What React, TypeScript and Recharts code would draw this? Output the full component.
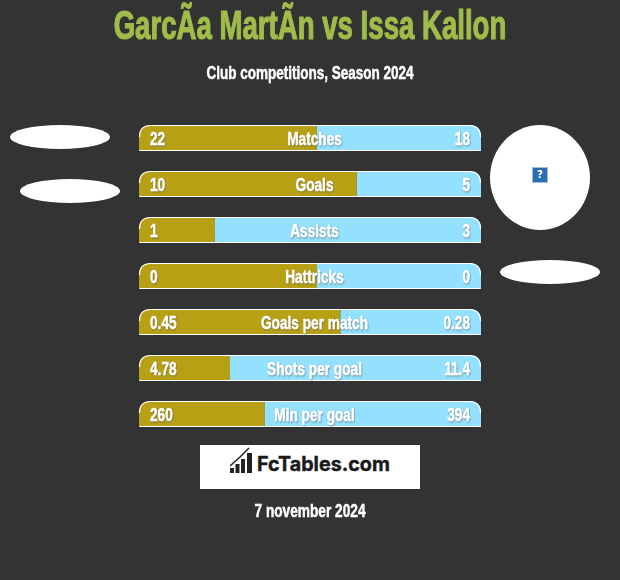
import React from "react";
import { BarChart, Bar, XAxis, YAxis, LabelList } from "recharts";

const categories = ["Matches", "Goals", "Assists", "Hattricks", "Goals per match", "Shots per goal", "Min per goal"];
const leftLabels = ["22", "10", "1", "0", "0.45", "4.78", "260"];
const rightLabels = ["18", "5", "3", "0", "0.28", "11.4", "394"];
// bar shares (percent of the full track)
const leftShare = [52, 63.7, 22.2, 52, 58.9, 26.6, 36.8];
const rightShare = [48, 36.3, 77.8, 48, 41.1, 73.4, 63.2];

const chartData = categories.map((name, i) => ({
  name,
  left: leftShare[i],
  right: rightShare[i],
  leftLabel: leftLabels[i],
  rightLabel: rightLabels[i],
}));

const sans = "'Liberation Sans', sans-serif";
const labelShadow = "drop-shadow(1.5px 1.5px 1px rgba(90,90,90,0.55))";
const PLOT_LEFT = 139;
const PLOT_WIDTH = 342;
const SQUEEZE = 0.72;

const LeftShape = (props: any) => {
  const { x, y, width, height } = props;
  const r = 12;
  const d = `M${x},${y + height} L${x},${y + r} Q${x},${y} ${x + r},${y} L${x + width},${y} L${x + width},${y + height} Z`;
  const edge = `M${x + 0.5},${y + height - 0.5} L${x + width},${y + height - 0.5} M${x + 0.5},${y + r} Q${x + 0.5},${y + 0.5} ${x + r},${y + 0.5} L${x + width},${y + 0.5}`;
  return (
    <g>
      <path d={d} fill="#b8a014" />
      <path d={edge} fill="none" stroke="#ffffff" strokeWidth={1.2} />
    </g>
  );
};

const RightShape = (props: any) => {
  const { x, y, width, height } = props;
  const r = 12;
  const d = `M${x},${y} L${x + width - r},${y} Q${x + width},${y} ${x + width},${y + r} L${x + width},${y + height} L${x},${y + height} Z`;
  const edge = `M${x},${y + 0.5} L${x + width - r},${y + 0.5} Q${x + width - 0.5},${y + 0.5} ${x + width - 0.5},${y + r} M${x},${y + height - 0.5} L${x + width - 0.5},${y + height - 0.5}`;
  return (
    <g>
      <path d={d} fill="#94e1ff" />
      <path d={edge} fill="none" stroke="#ffffff" strokeWidth={1.2} />
    </g>
  );
};

const textStyle = { fontFamily: sans, fontWeight: 700, fontSize: 19, fill: "#ffffff", stroke: "#ffffff", strokeWidth: 0.5, filter: labelShadow };

const squeezed = (x: number, y: number) => `translate(${x},${y + 7}) scale(${SQUEEZE},1)`;

const LeftValue = ({ x, y, height, value }: any) => (
  <text transform={squeezed(x + 11, y + height / 2)} style={textStyle}>{value}</text>
);
const RightValue = ({ x, y, width, height, value }: any) => (
  <text transform={squeezed(x + width - 11, y + height / 2)} textAnchor="end" style={textStyle}>{value}</text>
);
const NameLabel = ({ y, height, value }: any) => (
  <text transform={squeezed(PLOT_LEFT + PLOT_WIDTH / 2 + 4.5, y + height / 2)} textAnchor="middle" style={textStyle}>{value}</text>
);

const Ellipse = ({ left, top }: { left: number; top: number }) => (
  <div style={{ position: "absolute", left, top, width: 100, height: 24, borderRadius: "50%", background: "#fff" }} />
);

const HeadLine = ({ top, size, color, squeeze, stroke, text }: any) => (
  <div style={{ position: "absolute", left: 0, width: 620, top, textAlign: "center", fontFamily: sans, fontWeight: 700, fontSize: size, color, lineHeight: `${size + 6}px`, transform: `scaleX(${squeeze})`, WebkitTextStroke: `${stroke}px ${color}`, whiteSpace: "nowrap" }}>
    {text}
  </div>
);

export default function App() {
  return (
    <div style={{ position: "absolute", left: 0, top: 0, width: 620, height: 580, background: "#333333", overflow: "hidden" }}>
      <HeadLine top={2} size={40} color="#a0bc4a" squeeze={0.69} stroke={1.2} text="GarcÃ­a MartÃ­n vs Issa Kallon" />
      <HeadLine top={61} size={18} color="#ffffff" squeeze={0.75} stroke={0.5} text="Club competitions, Season 2024" />

      <div style={{ position: "absolute", left: 0, top: 0 }}>
        <BarChart
          width={620}
          height={580}
          data={chartData}
          layout="vertical"
          margin={{ top: 115, right: 139, bottom: 143, left: PLOT_LEFT }}
          barSize={26}
        >
          <XAxis type="number" hide domain={[0, 100]} />
          <YAxis type="category" dataKey="name" hide />
          <Bar dataKey="left" stackId="a" shape={<LeftShape />} isAnimationActive={false}>
            <LabelList dataKey="leftLabel" content={<LeftValue />} />
          </Bar>
          <Bar dataKey="right" stackId="a" shape={<RightShape />} isAnimationActive={false}>
            <LabelList dataKey="rightLabel" content={<RightValue />} />
            <LabelList dataKey="name" content={<NameLabel />} />
          </Bar>
        </BarChart>
      </div>

      <Ellipse left={10} top={125} />
      <Ellipse left={20} top={179} />
      <Ellipse left={500} top={260} />
      <div style={{ position: "absolute", left: 490, top: 125, width: 100, height: 105, borderRadius: "50%", background: "#fff" }} />
      <div style={{ position: "absolute", left: 532, top: 167, width: 16, height: 16, boxSizing: "border-box", border: "1px solid #9fc0dc", background: "#2a6db0", color: "#fff", fontFamily: "'DejaVu Sans', sans-serif", fontWeight: 700, fontSize: 10, lineHeight: "14px", textAlign: "center" }}>?</div>

      <div style={{ position: "absolute", left: 200, top: 445, width: 220, height: 44, background: "#fff" }}>
        <svg width={30} height={34} style={{ position: "absolute", left: 30, top: 0 }}>
          <path d="M0,28 L0,23 L4,23 L4,28 Z M5.5,28 L5.5,19 L9.5,19 L9.5,28 Z M11,28 L11,14 L15,14 L15,28 Z M17,28 L17,8 L22,8 L22,28 Z" fill="#222" />
          <path d="M0,21 L10,12 L19,3" fill="none" stroke="#222" strokeWidth={1.5} />
        </svg>
        <div style={{ position: "absolute", left: 57, top: 6, fontFamily: "Inter, sans-serif", fontWeight: 700, fontSize: 19.7, lineHeight: "26px", color: "#1a1a1a", WebkitTextStroke: "0.4px #1a1a1a", whiteSpace: "nowrap" }}>FcTables.com</div>
      </div>

      <HeadLine top={499} size={18} color="#ffffff" squeeze={0.76} stroke={0.5} text="7 november 2024" />
    </div>
  );
}
